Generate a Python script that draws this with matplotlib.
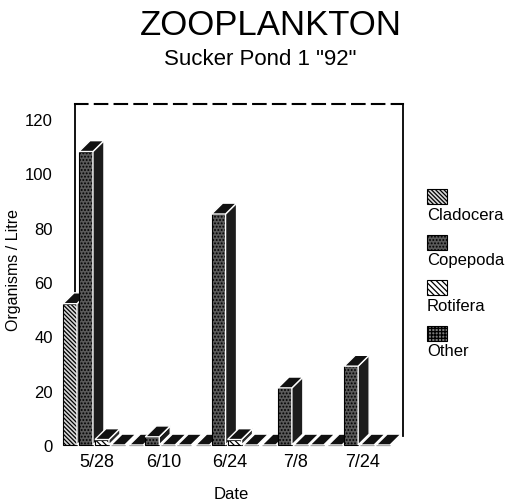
import matplotlib.pyplot as plt
from matplotlib.patches import Polygon, Rectangle

plt.rcParams['font.family'] = ['Liberation Sans', 'DejaVu Sans']
plt.rcParams['hatch.linewidth'] = 0.9

# values (organisms / litre)
dates = ['5/28', '6/10', '6/24', '7/8', '7/24']
cladocera = [52, 0, 0, 0, 0]
copepoda = [108, 3, 85, 21, 29]
rotifera = [2, 0, 2, 0, 0]
other = [0, 0, 0, 0, 0]
series_names = ['Cladocera', 'Copepoda', 'Rotifera', 'Other']
yticks = [0, 20, 40, 60, 80, 100, 120]

# look of each series: front face, hatch, side face
styles = [
    ('#d8d8d8', '\\' * 8, '#2a2a2a'),
    ('#5a5a5a', '.....', '#1c1c1c'),
    ('white', '\\' * 6, '#2a2a2a'),
    ('#7a7a7a', '+++++', '#2a2a2a'),
]

fig = plt.figure(figsize=(5.09, 5.02), dpi=100)
ax = fig.add_axes([0.1473, 0.1116, 0.6444, 0.6793])
ax.set_xlim(-0.332, 4.615)
ax.set_ylim(0, 125.5)

width = 0.21
step = 0.241
first = -0.407
dx = 0.166   # depth of the fake 3d, x data units
dy = 4.0     # depth of the fake 3d, y data units


def bar3d(x, h, face, hatch, side, z):
    ax.bar(x, h, width, color=face, hatch=hatch, edgecolor='black',
           linewidth=0.8, zorder=z, clip_on=False)
    r = x + width / 2
    l = x - width / 2
    side_poly = Polygon([(r, 0), (r + dx, dy), (r + dx, h + dy), (r, h)],
                        closed=True, facecolor=side, edgecolor='white',
                        linewidth=1.0, zorder=z + 0.1, clip_on=False)
    top_poly = Polygon([(l, h), (l + dx, h + dy), (r + dx, h + dy), (r, h)],
                       closed=True, facecolor='#111111', edgecolor='white',
                       linewidth=1.0, zorder=z + 0.2, clip_on=False)
    ax.add_patch(side_poly)
    ax.add_patch(top_poly)


all_series = [cladocera, copepoda, rotifera, other]
for g in range(len(dates)):
    for s, vals in enumerate(all_series):
        face, hatch, side = styles[s]
        bar3d(g + first + s * step, vals[g], face, hatch, side, 2 + g * 4 + s)

# frame: solid left, dashed top, solid right wall
ax.spines['bottom'].set_visible(False)
ax.spines['left'].set_linewidth(1.3)
ax.spines['right'].set_linewidth(1.3)
ax.spines['right'].set_bounds(dy * 0.8, 125.5)
ax.spines['top'].set_linewidth(1.5)
ax.spines['top'].set_linestyle((0, (6, 3.5)))
for sp in ax.spines.values():
    sp.set_zorder(1)

ax.set_yticks(yticks)
ax.set_yticklabels([str(v) for v in yticks], fontsize=12)
ax.set_xticks(range(len(dates)))
ax.set_xticklabels(dates, fontsize=13)
ax.tick_params(axis='y', length=0, pad=16)
ax.tick_params(axis='x', length=0, pad=6)

fig.text(14 / 509, 1 - 270 / 502, 'Organisms / Litre', rotation=90,
         ha='center', va='center', fontsize=11.5)
fig.text(231 / 509, 1 - 499 / 502, 'Date', ha='center', va='baseline',
         fontsize=12)
fig.text(271 / 509, 1 - 35 / 502, 'ZOOPLANKTON', ha='center', va='baseline',
         fontsize=25)
fig.text(260 / 509, 1 - 65 / 502, 'Sucker Pond 1 "92"', ha='center',
         va='baseline', fontsize=16)

# legend: swatch above each name
for i, name in enumerate(series_names):
    face, hatch, side = styles[i]
    top = 190 + i * 45.5
    fig.add_artist(Rectangle((427 / 509, 1 - (top + 15) / 502), 20 / 509,
                             15 / 502, transform=fig.transFigure,
                             facecolor=face, hatch=hatch, edgecolor='black',
                             linewidth=0.8))
    fig.text(427 / 509, 1 - (top + 30) / 502, name, ha='left',
             va='baseline', fontsize=12)

fig.savefig('out.png', dpi=100)
